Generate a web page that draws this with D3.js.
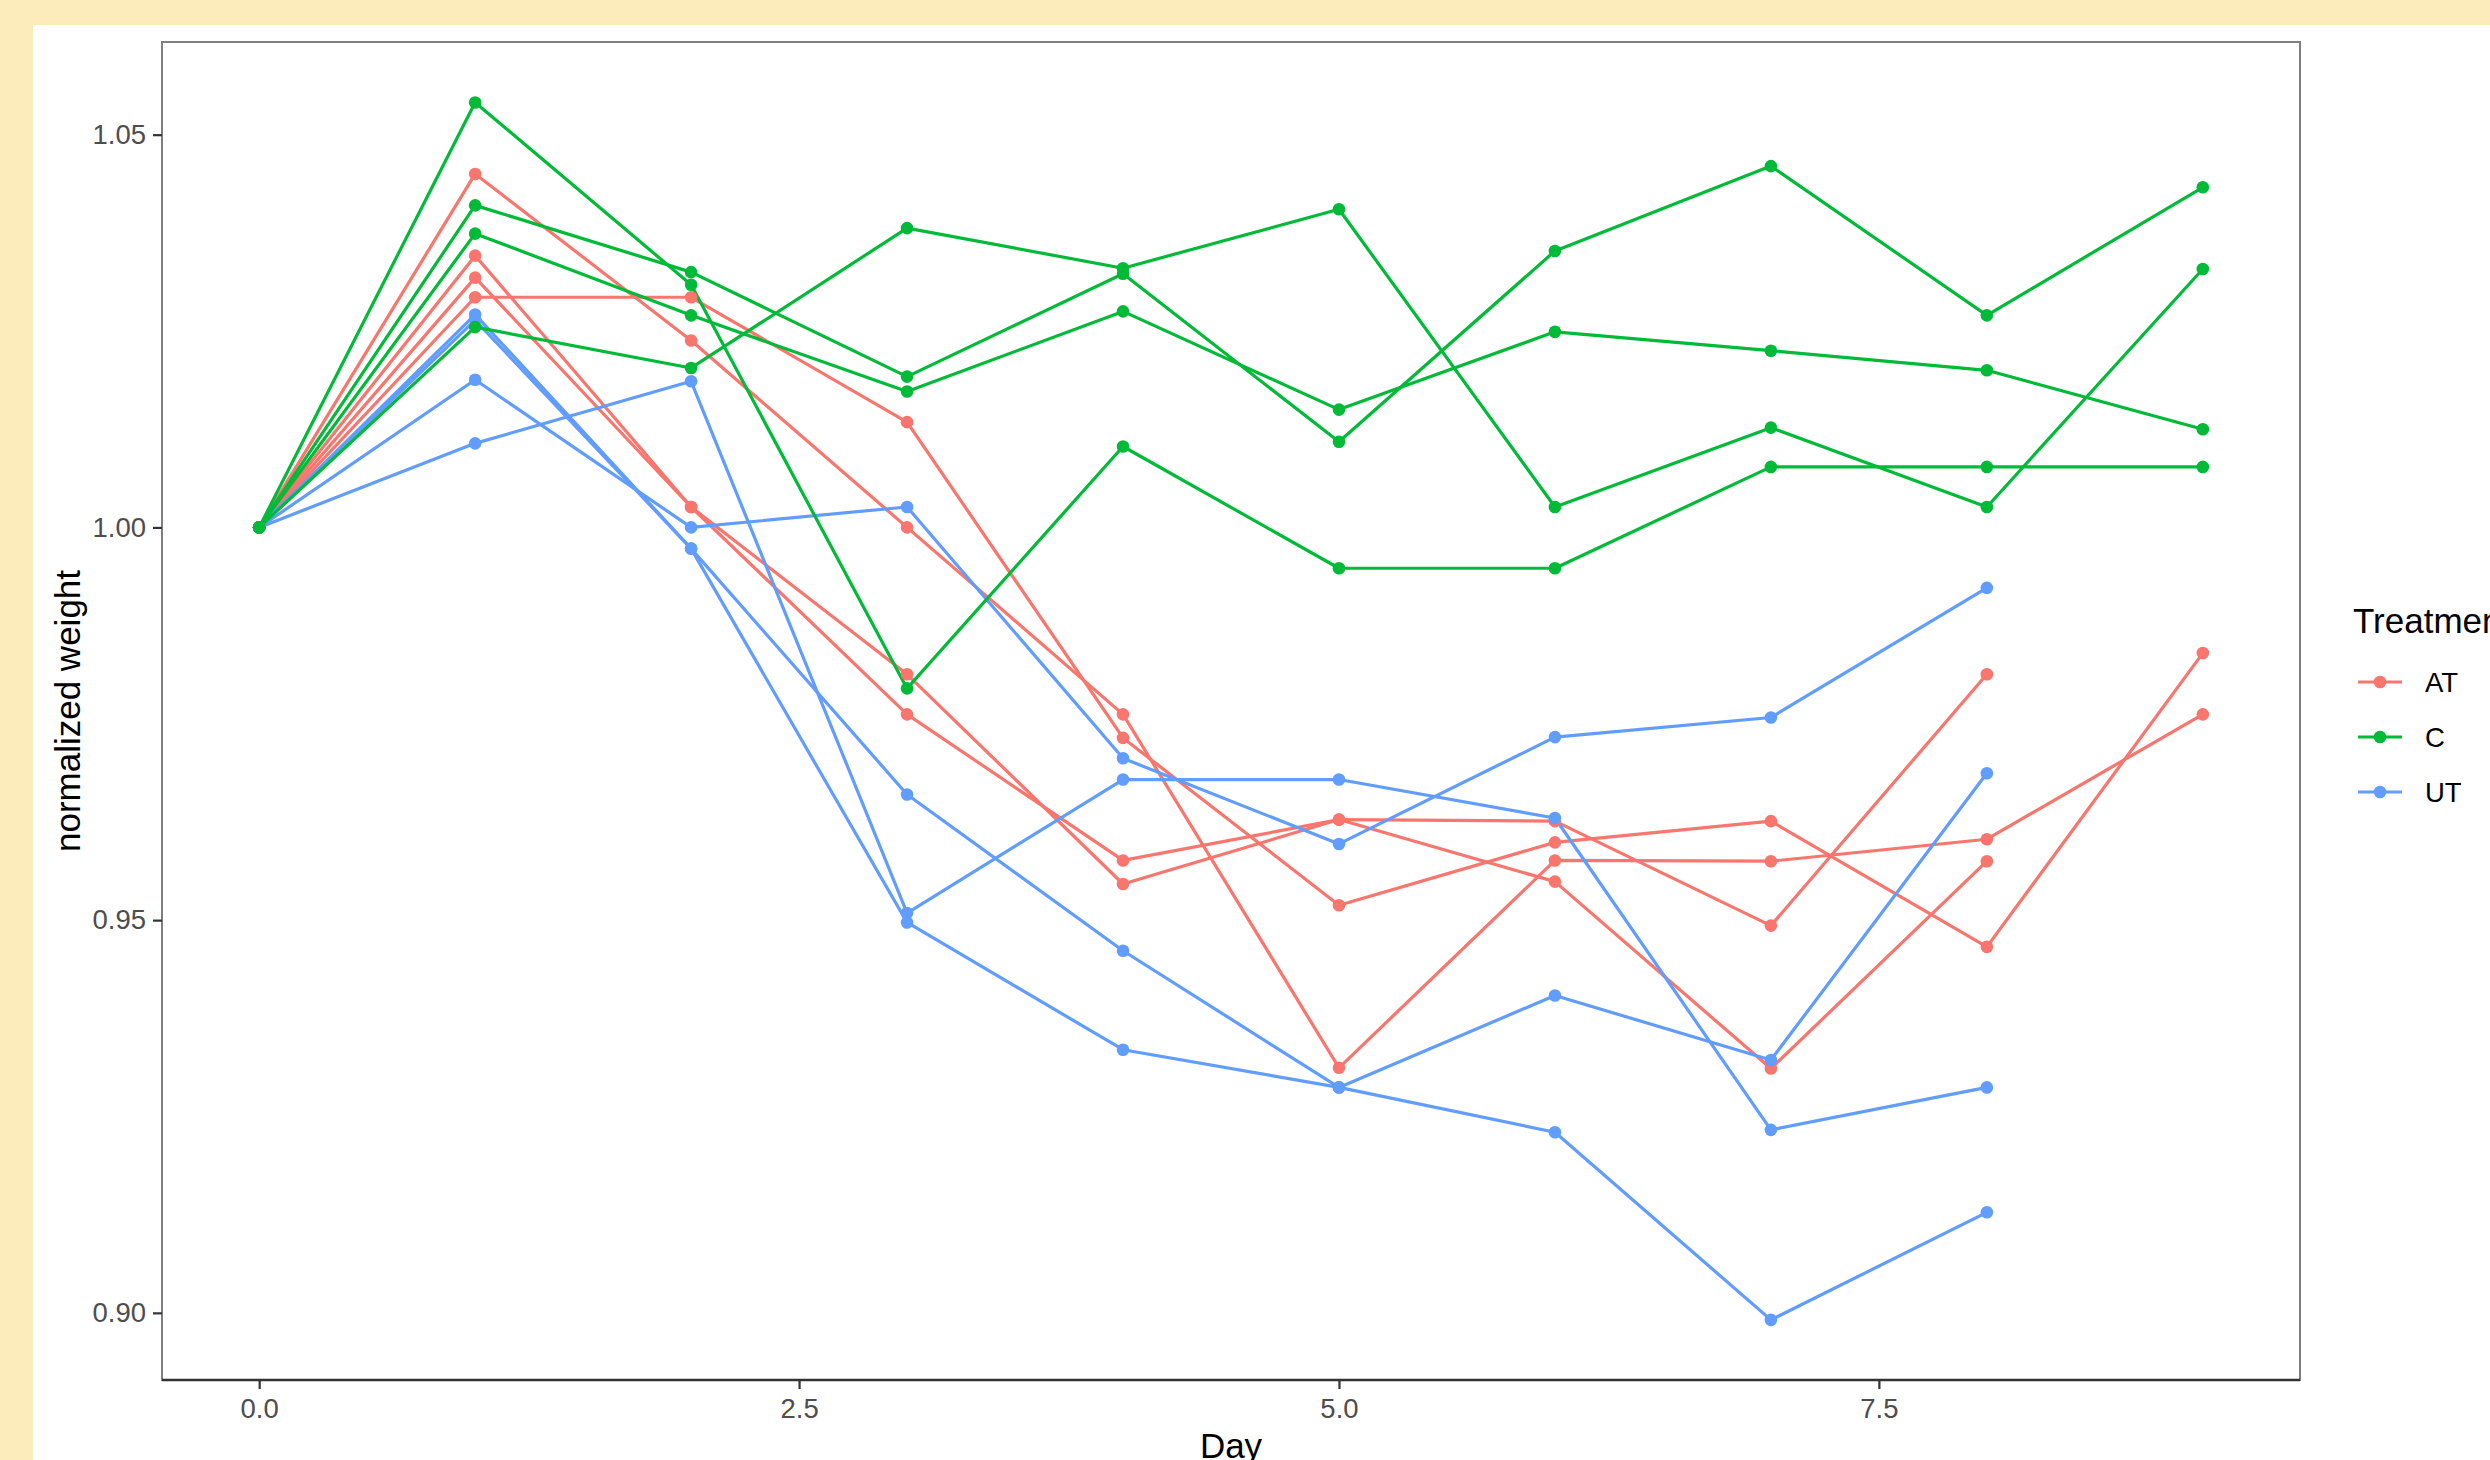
<!DOCTYPE html>
<html>
<head>
<meta charset="utf-8">
<script src="https://cdn.jsdelivr.net/npm/d3@7"></script>
<style>
  html, body { margin: 0; padding: 0; background: #FCEBBB; }
  svg { display: block; }
  text { font-family: "Liberation Sans", Arial, sans-serif; }
</style>
</head>
<body>
<svg id="chart" width="2490" height="1460"></svg>
<script>
// ---------------- data ----------------
const days = [0, 1, 2, 3, 4, 5, 6, 7, 8, 9];
const treatments = ["AT", "C", "UT"];
const treatmentColors = ["#F8766D", "#00BA38", "#619CFF"];
const xTicks = [0, 2.5, 5, 7.5];
const yTicks = [0.90, 0.95, 1.00, 1.05];

// AT (red)
const atA = [1.0000, 1.0450, 1.0238, 1.0000, 0.9762, 0.9312, 0.9576, 0.9575, 0.9603, 0.9762];
const atB = [1.0000, 1.0293, 1.0293, 1.0134, 0.9732, 0.9519, 0.9599, 0.9626, 0.9466, 0.9840];
const atC = [1.0000, 1.0346, 1.0026, 0.9813, 0.9546, 0.9628, 0.9626, 0.9493, 0.9813];
const atD = [1.0000, 1.0318, 1.0026, 0.9762, 0.9576, 0.9628, 0.9549, 0.9311, 0.9575];
// C (green)
const cA = [1.0000, 1.0541, 1.0309, 0.9795, 1.0103, 0.9948, 0.9948, 1.0077, 1.0077, 1.0077];
const cB = [1.0000, 1.0255, 1.0203, 1.0381, 1.0330, 1.0405, 1.0026, 1.0127, 1.0026, 1.0329];
const cC = [1.0000, 1.0410, 1.0325, 1.0192, 1.0323, 1.0109, 1.0352, 1.0460, 1.0270, 1.0433];
const cD = [1.0000, 1.0374, 1.0270, 1.0173, 1.0275, 1.0150, 1.0249, 1.0225, 1.0200, 1.0125];
// UT (blue)
const utA = [1.0000, 1.0107, 1.0186, 0.9509, 0.9679, 0.9679, 0.9630, 0.9233, 0.9287];
const utB = [1.0000, 1.0188, 1.0000, 1.0026, 0.9706, 0.9597, 0.9733, 0.9758, 0.9923];
const utC = [1.0000, 1.0271, 0.9973, 0.9660, 0.9461, 0.9287, 0.9404, 0.9322, 0.9687];
const utD = [1.0000, 1.0264, 0.9973, 0.9497, 0.9335, 0.9287, 0.9230, 0.8991, 0.9128];

// drawing order (red, blue, green on top)
const series = [
  { t: "AT", v: atA }, { t: "AT", v: atB }, { t: "AT", v: atC }, { t: "AT", v: atD },
  { t: "UT", v: utA }, { t: "UT", v: utB }, { t: "UT", v: utC }, { t: "UT", v: utD },
  { t: "C", v: cA }, { t: "C", v: cB }, { t: "C", v: cC }, { t: "C", v: cD }
];

// ---------------- layout ----------------
const W = 2490, H = 1460;
const panel = { left: 162, top: 42, right: 2300, bottom: 1380 };
const color = d3.scaleOrdinal().domain(treatments).range(treatmentColors);

const x = d3.scaleLinear().domain([-0.45, 9.45]).range([panel.left, panel.right]);
const y = d3.scaleLinear().domain([0.89145, 1.0618]).range([panel.bottom, panel.top]);

const svg = d3.select("#chart");
svg.append("rect").attr("x", 0).attr("y", 0).attr("width", W).attr("height", H).attr("fill", "#FCEBBB");
svg.append("rect").attr("x", 33).attr("y", 25).attr("width", W - 33).attr("height", H - 25).attr("fill", "#FFFFFF");

// lines & points
const plot = svg.append("g");
const line = d3.line().x((d, i) => x(days[i])).y(d => y(d));

plot.selectAll("path.series").data(series).enter().append("path")
  .attr("class", "series")
  .attr("d", d => line(d.v))
  .attr("fill", "none")
  .attr("stroke", d => color(d.t))
  .attr("stroke-width", 3.2)
  .attr("stroke-linejoin", "round");

series.forEach(s => {
  plot.append("g").selectAll("circle").data(s.v).enter().append("circle")
    .attr("cx", (d, i) => x(days[i]))
    .attr("cy", d => y(d))
    .attr("r", 6.3)
    .attr("fill", color(s.t));
});

// panel border
svg.append("rect")
  .attr("x", panel.left).attr("y", panel.top)
  .attr("width", panel.right - panel.left).attr("height", panel.bottom - panel.top)
  .attr("fill", "none").attr("stroke", "#7F7F7F").attr("stroke-width", 2);

// axes
const yAxis = svg.append("g")
  .attr("transform", `translate(${panel.left},0)`)
  .call(d3.axisLeft(y).tickValues(yTicks).tickFormat(d3.format(".2f")).tickSize(9).tickPadding(7));
const xAxis = svg.append("g")
  .attr("transform", `translate(0,${panel.bottom})`)
  .call(d3.axisBottom(x).tickValues(xTicks).tickFormat(d3.format(".1f")).tickSize(9).tickPadding(9));

[yAxis, xAxis].forEach(g => {
  g.select(".domain").remove();
  g.selectAll(".tick line").attr("stroke", "#333333").attr("stroke-width", 2.2);
  g.selectAll(".tick text").attr("fill", "#4D4D4D").attr("font-size", 27.5)
    .attr("font-family", "'Liberation Sans', Arial, sans-serif");
});
// bottom axis line
svg.append("line")
  .attr("x1", panel.left).attr("x2", panel.right)
  .attr("y1", panel.bottom).attr("y2", panel.bottom)
  .attr("stroke", "#333333").attr("stroke-width", 2.5);

// axis titles
svg.append("text")
  .attr("x", (panel.left + panel.right) / 2).attr("y", 1458)
  .attr("text-anchor", "middle").attr("font-size", 35).attr("fill", "#000")
  .text("Day");
svg.append("text")
  .attr("transform", `translate(80,${(panel.top + panel.bottom) / 2}) rotate(-90)`)
  .attr("text-anchor", "middle").attr("font-size", 35).attr("fill", "#000")
  .text("normalized weight");

// legend
const legend = svg.append("g");
legend.append("text").attr("x", 2353).attr("y", 633)
  .attr("font-size", 35).attr("fill", "#000").text("Treatment");
treatments.forEach((t, i) => {
  const cy = 682 + i * 55;
  legend.append("line").attr("x1", 2358).attr("x2", 2402).attr("y1", cy).attr("y2", cy)
    .attr("stroke", color(t)).attr("stroke-width", 3.2);
  legend.append("circle").attr("cx", 2380).attr("cy", cy).attr("r", 6.3).attr("fill", color(t));
  legend.append("text").attr("x", 2425).attr("y", cy).attr("dy", "0.35em")
    .attr("font-size", 27.5).attr("fill", "#000").text(t);
});
</script>
</body>
</html>
